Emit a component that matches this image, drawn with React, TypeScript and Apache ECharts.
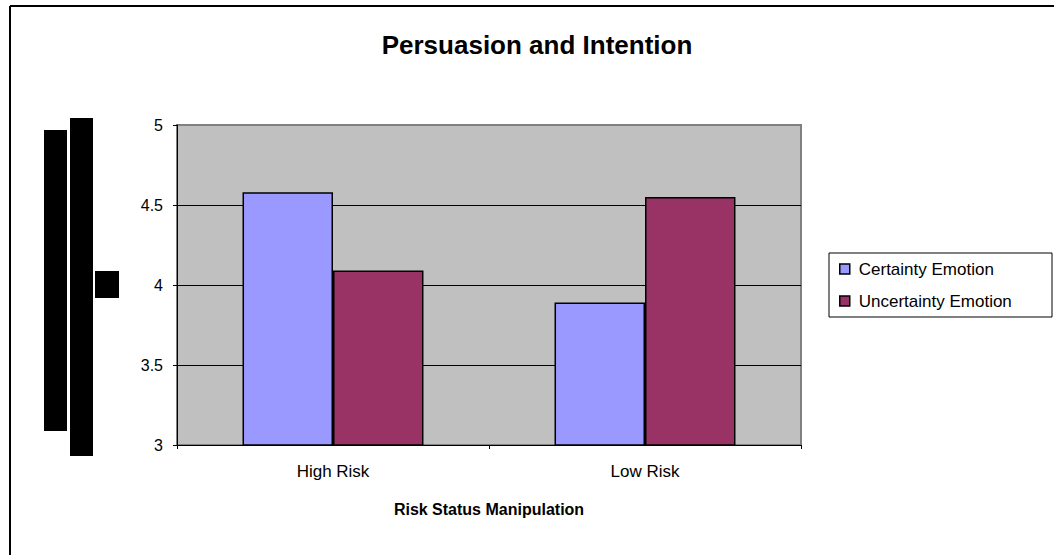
import React, { useEffect, useRef } from "react";
import * as echarts from "echarts";

const categories = ["High Risk", "Low Risk"];
const certainty = [4.58, 3.89];
const uncertainty = [4.09, 4.55];
const seriesNames = ["Certainty Emotion", "Uncertainty Emotion"];
const yMin = 3;
const yMax = 5;
const yStep = 0.5;

export default function App() {
  const ref = useRef<HTMLDivElement>(null);
  useEffect(() => {
    if (!ref.current) return;
    const chart = echarts.init(ref.current, undefined, { renderer: "svg" });
    const font = "Liberation Sans, Arial, sans-serif";
    chart.setOption({
      animation: false,
      backgroundColor: "#ffffff",
      title: {
        text: "Persuasion and Intention",
        left: 537,
        top: 32,
        padding: 0,
        textAlign: "center",
        textStyle: { fontFamily: font, fontSize: 26, fontWeight: "bold", color: "#000" },
      },
      grid: {
        left: 177,
        top: 125,
        width: 624,
        height: 320,
        show: true,
        backgroundColor: "#C0C0C0",
        borderColor: "#808080",
        borderWidth: 2,
      },
      legend: {
        orient: "vertical",
        left: 839,
        top: 260,
        padding: 0,
        itemWidth: 10,
        itemHeight: 10,
        itemGap: 14,
        icon: "rect",
        itemStyle: { borderColor: "#000", borderWidth: 1.5 },
        textStyle: { fontFamily: font, fontSize: 17, color: "#000", padding: [0, 0, 0, 4], lineHeight: 18 },
        data: seriesNames,
      },
      xAxis: {
        type: "category",
        data: categories,
        name: "Risk Status Manipulation",
        nameLocation: "middle",
        nameGap: 56,
        nameTextStyle: { fontFamily: font, fontSize: 16, fontWeight: "bold", color: "#000" },
        axisLine: { show: true, lineStyle: { color: "#000", width: 1 } },
        axisTick: { show: true, length: 4, lineStyle: { color: "#000" } },
        axisLabel: { fontFamily: font, fontSize: 17, color: "#000", margin: 18 },
        splitLine: { show: false },
      },
      yAxis: {
        type: "value",
        min: yMin,
        max: yMax,
        interval: yStep,
        axisLine: { show: true, lineStyle: { color: "#000", width: 1 } },
        axisTick: { show: true, length: 4, lineStyle: { color: "#000" } },
        axisLabel: { fontFamily: font, fontSize: 16, color: "#000", margin: 14 },
        splitLine: { show: true, showMinLine: false, showMaxLine: false, lineStyle: { color: "#000", width: 1 } },
      },
      series: [
        {
          name: seriesNames[0],
          type: "bar",
          data: certainty,
          barGap: "0%",
          barCategoryGap: "42%",
          itemStyle: { color: "#9999FF", borderColor: "#000", borderWidth: 1.5 },
        },
        {
          name: seriesNames[1],
          type: "bar",
          data: uncertainty,
          barGap: "0%",
          barCategoryGap: "42%",
          itemStyle: { color: "#993366", borderColor: "#000", borderWidth: 1.5 },
        },
      ],
      graphic: [
        { type: "line", shape: { x1: 10, y1: 6, x2: 1054, y2: 6 }, style: { stroke: "#000", lineWidth: 2 } },
        { type: "line", shape: { x1: 10, y1: 6, x2: 10, y2: 555 }, style: { stroke: "#000", lineWidth: 2 } },
        { type: "rect", shape: { x: 829, y: 253, width: 223, height: 64 }, style: { fill: "none", stroke: "#000", lineWidth: 1 } },
        { type: "rect", shape: { x: 44, y: 130, width: 23, height: 301 }, style: { fill: "#000" } },
        { type: "rect", shape: { x: 70, y: 118, width: 23, height: 338 }, style: { fill: "#000" } },
        { type: "rect", shape: { x: 95, y: 271, width: 24, height: 27 }, style: { fill: "#000" } },
      ],
    });
    return () => chart.dispose();
  }, []);
  return (
    <div
      ref={ref}
      style={{ position: "fixed", left: 0, top: 0, width: 1054, height: 555 }}
    />
  );
}
